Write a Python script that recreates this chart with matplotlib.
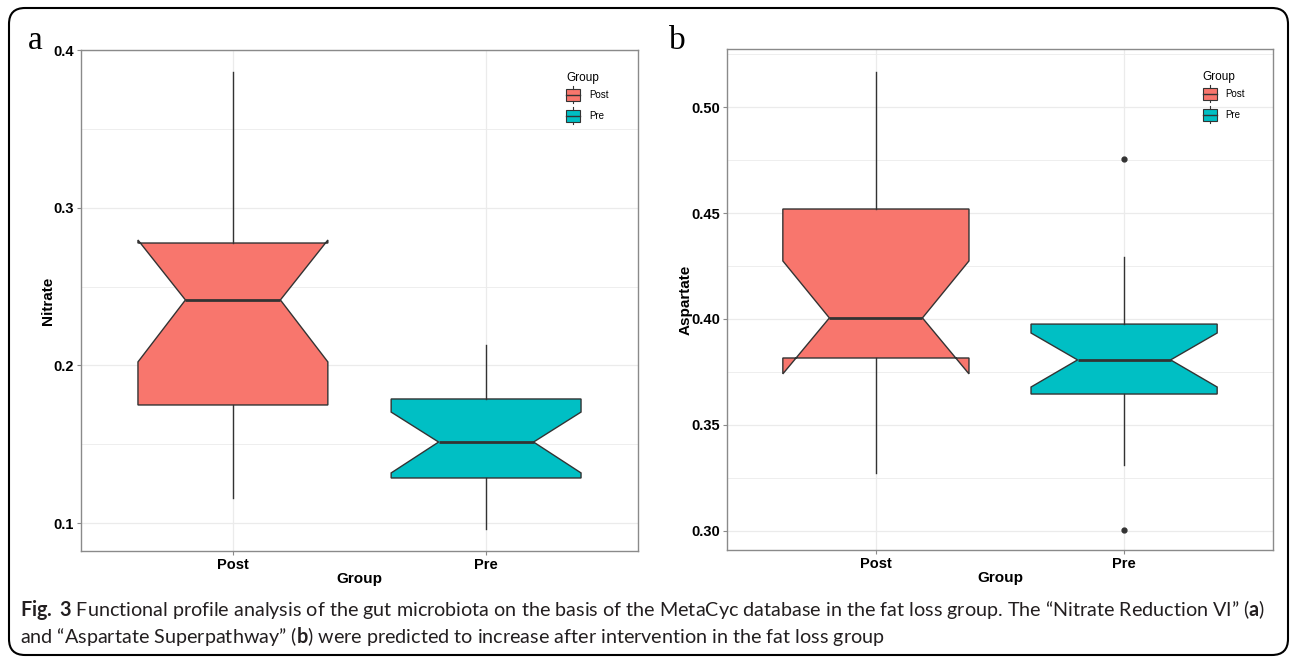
import matplotlib
matplotlib.use('Agg')
import matplotlib.pyplot as plt
from matplotlib.patches import Rectangle, FancyBboxPatch
from matplotlib.lines import Line2D
from matplotlib.legend_handler import HandlerBase
from matplotlib.transforms import IdentityTransform

# ---------------- data ----------------
groups = ['Post', 'Pre']
group_colors = ['#F8766D', '#00BFC4']

# Panel a: Nitrate
nitrate_whislo = [0.116, 0.0963]
nitrate_q1 = [0.1749, 0.1286]
nitrate_cilo = [0.2022, 0.1318]
nitrate_med = [0.2415, 0.1514]
nitrate_cihi = [0.2795, 0.1704]
nitrate_q3 = [0.2776, 0.1787]
nitrate_whishi = [0.386, 0.2129]
nitrate_fliers = [[], []]

# Panel b: Aspartate
asp_whislo = [0.3274, 0.3311]
asp_q1 = [0.3816, 0.3646]
asp_cilo = [0.3741, 0.3679]
asp_med = [0.4005, 0.3807]
asp_cihi = [0.4274, 0.3934]
asp_q3 = [0.4519, 0.3976]
asp_whishi = [0.5165, 0.4292]
asp_fliers = [[], [0.4755, 0.3005]]

nitrate_ticks = [0.1, 0.2, 0.3, 0.4]
nitrate_ticklabels = ['0.1', '0.2', '0.3', '0.4']
asp_ticks = [0.30, 0.35, 0.40, 0.45, 0.50]
asp_ticklabels = ['0.30', '0.35', '0.40', '0.45', '0.50']

caption1 = (r"$\mathbf{Fig.}$ $\mathbf{3}$ Functional profile analysis of the gut microbiota on the basis of the "
            r"MetaCyc database in the fat loss group. The “Nitrate Reduction VI” ($\mathbf{a}$)")
caption2 = (r"and “Aspartate Superpathway” ($\mathbf{b}$) were predicted to increase after "
            r"intervention in the fat loss group")

# ---------------- style ----------------
plt.rcParams['mathtext.fontset'] = 'custom'
plt.rcParams['mathtext.rm'] = 'Lato'
plt.rcParams['mathtext.bf'] = 'Lato:bold'
plt.rcParams['mathtext.it'] = 'Lato:italic'

W, H = 1290, 658
fig = plt.figure(figsize=(W / 100, H / 100), dpi=100)

EDGE = '#333333'
SPINE = '#8a8a8a'
GRID = '#ebebeb'
TICKFONT = dict(family='Liberation Sans', weight='bold', size=10.5)


class BoxKey(HandlerBase):
    def create_artists(self, legend, orig_handle, xdescent, ydescent,
                       width, height, fontsize, trans):
        fc = orig_handle.get_facecolor()
        x0, y0 = -xdescent, -ydescent
        bh = height * 0.62
        by = y0 + (height - bh) / 2
        rect = Rectangle((x0, by), width, bh, facecolor=fc, edgecolor=EDGE,
                         lw=0.8, transform=trans)
        med = Line2D([x0, x0 + width], [y0 + height / 2] * 2, color=EDGE,
                     lw=1.0, transform=trans)
        wt = Line2D([x0 + width / 2] * 2, [by + bh, by + bh + height * 0.14],
                    color=EDGE, lw=0.8, transform=trans)
        wb = Line2D([x0 + width / 2] * 2, [by - height * 0.14, by], color=EDGE,
                    lw=0.8, transform=trans)
        return [rect, med, wt, wb]


def make_stats(lo, q1, cilo, med, cihi, q3, hi, fliers):
    return [dict(whislo=lo[i], q1=q1[i], cilo=cilo[i], med=med[i], cihi=cihi[i],
                 q3=q3[i], whishi=hi[i], fliers=fliers[i], label=groups[i])
            for i in range(len(groups))]


def draw_panel(ax, stats, ylim, ticks, ticklabels, ylabel, ylabel_x):
    ax.set_axisbelow(True)
    res = ax.bxp(stats, positions=[1, 2], widths=0.75, shownotches=True,
                 showcaps=False, patch_artist=True,
                 boxprops=dict(edgecolor=EDGE, linewidth=1.0),
                 medianprops=dict(color=EDGE, linewidth=2.0),
                 whiskerprops=dict(color=EDGE, linewidth=1.0),
                 flierprops=dict(marker='o', markersize=3.5,
                                 markerfacecolor=EDGE, markeredgecolor=EDGE))
    for b, c in zip(res['boxes'], group_colors):
        b.set_facecolor(c)
    ax.set_xlim(0.4, 2.6)
    ax.set_ylim(*ylim)
    ax.set_yticks(ticks)
    ax.set_yticklabels(ticklabels, **TICKFONT)
    step = ticks[1] - ticks[0]
    minors = [(ticks[i] + ticks[i + 1]) / 2 for i in range(len(ticks) - 1)]
    if ticks[0] - step / 2 > ylim[0]:
        minors.insert(0, ticks[0] - step / 2)
    if ticks[-1] + step / 2 < ylim[1]:
        minors.append(ticks[-1] + step / 2)
    ax.set_yticks(minors, minor=True)
    ax.set_xticks([1, 2])
    ax.set_xticklabels(groups, **TICKFONT)
    ax.grid(True, which='major', color=GRID, lw=0.9)
    ax.grid(True, which='minor', axis='y', color=GRID, lw=0.6)
    ax.tick_params(which='major', length=3, color=SPINE, width=0.8, pad=2,
                   labelcolor='black')
    ax.tick_params(which='minor', length=0)
    for s in ax.spines.values():
        s.set_color(SPINE)
        s.set_linewidth(1.0)
    ax.set_xlabel('Group', family='Liberation Sans', weight='bold', size=11)
    ax.xaxis.set_label_coords(0.5, -0.042)
    ax.set_ylabel(ylabel, family='Liberation Sans', weight='bold', size=11)
    ax.yaxis.set_label_coords(ylabel_x, 0.5)
    handles = [Rectangle((0, 0), 1, 1, facecolor=c) for c in group_colors]
    ax.legend(handles, groups, handler_map={Rectangle: BoxKey()},
              loc='upper left', bbox_to_anchor=(0.871, 0.957),
              frameon=False, title='Group', alignment='left',
              prop=dict(family='Liberation Sans', size=7),
              title_fontproperties=dict(family='Liberation Sans', size=8.5),
              handlelength=1.45, handleheight=2.7, labelspacing=0.15,
              handletextpad=0.9, borderpad=0, borderaxespad=0)
    return ax


axA = fig.add_axes([81 / W, 1 - 551 / H, (638 - 81) / W, (551 - 50) / H])
draw_panel(axA, make_stats(nitrate_whislo, nitrate_q1, nitrate_cilo, nitrate_med,
                           nitrate_cihi, nitrate_q3, nitrate_whishi, nitrate_fliers),
           (0.0823, 0.4), nitrate_ticks, nitrate_ticklabels, 'Nitrate', -0.047)

axB = fig.add_axes([727 / W, 1 - 550 / H, (1273 - 727) / W, (550 - 49) / H])
draw_panel(axB, make_stats(asp_whislo, asp_q1, asp_cilo, asp_med,
                           asp_cihi, asp_q3, asp_whishi, asp_fliers),
           (0.291, 0.5274), asp_ticks, asp_ticklabels, 'Aspartate', -0.0625)

# panel letters
fig.text(28 / W, 1 - 49 / H, 'a', family='Liberation Serif', size=24,
         ha='left', va='baseline')
fig.text(669 / W, 1 - 49 / H, 'b', family='Liberation Serif', size=24,
         ha='left', va='baseline')

# caption
fig.text(20 / W, 1 - 616 / H, caption1, family='Lato', size=14.2, color='#231f20',
         ha='left', va='baseline')
fig.text(20 / W, 1 - 643 / H, caption2, family='Lato', size=14.2, color='#231f20',
         ha='left', va='baseline')

# outer rounded frame
frame = FancyBboxPatch((9, 3), 1279, 647,
                       boxstyle='round,pad=0,rounding_size=16',
                       transform=IdentityTransform(), fill=False,
                       edgecolor='black', lw=1.5)
fig.patches.append(frame)

fig.savefig('out.png', dpi=100)
